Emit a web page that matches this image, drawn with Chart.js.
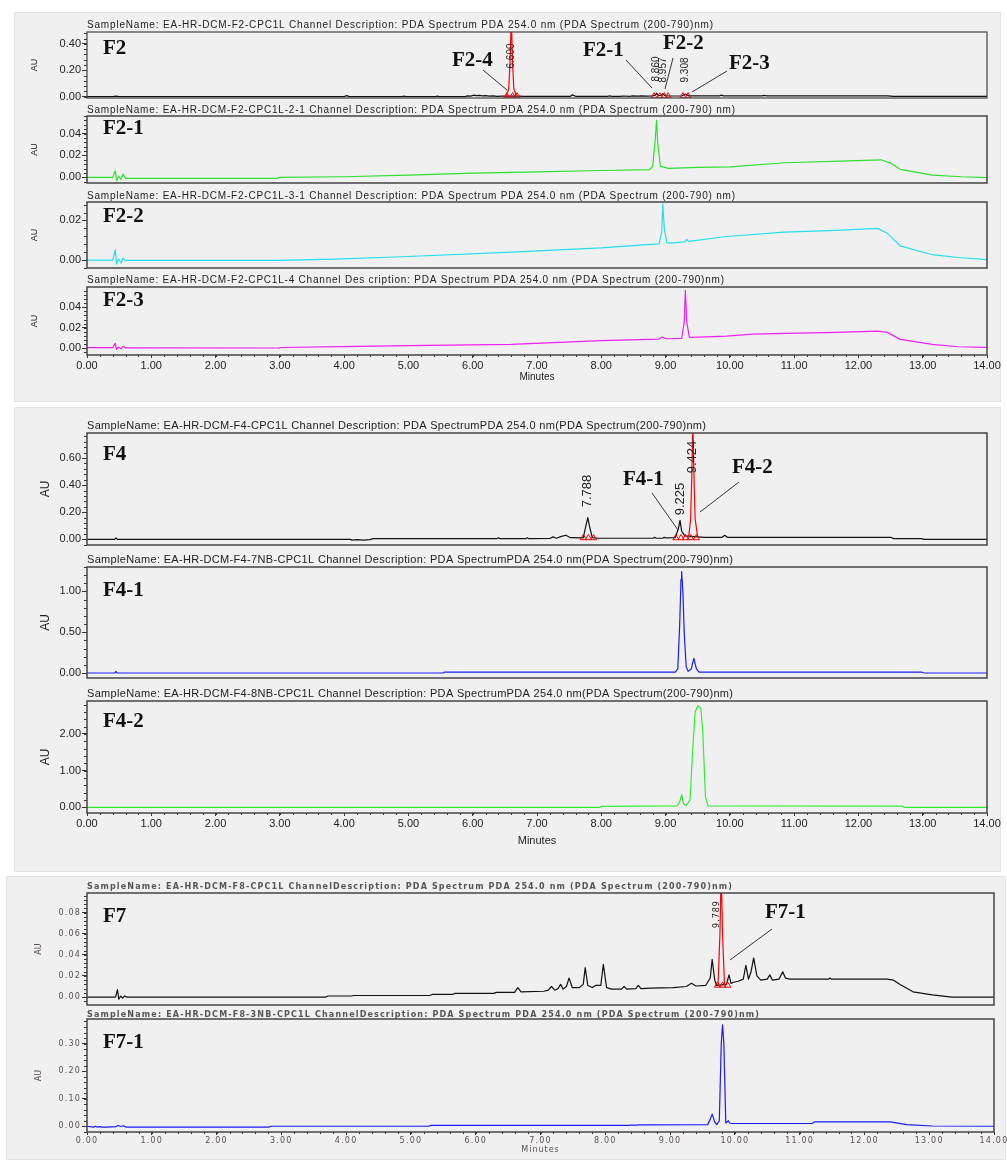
<!DOCTYPE html>
<html>
<head>
<meta charset="utf-8">
<title>HPLC chromatograms F2 / F4 / F7</title>
<script src="https://cdn.jsdelivr.net/npm/chart.js@4.4.1/dist/chart.umd.min.js"></script>
<style>
  body { margin: 0; width: 1007px; height: 1163px; background: #fff; position: relative; overflow: hidden; }
  .group { position: absolute; background: #f0f0f0; box-shadow: 0 0 0 1px #e4e4e4; }
  canvas { position: absolute; left: 0; top: 0; }
</style>
</head>
<body>
<div class="group" style="left:15px;top:13px;width:985px;height:388px"></div>
<div class="group" style="left:15px;top:408px;width:985px;height:463px"></div>
<div class="group" style="left:7px;top:877px;width:998px;height:282px"></div>
<script>
// ------------------ Data (minutes / AU) ------------------
const xTicks = [0, 1, 2, 3, 4, 5, 6, 7, 8, 9, 10, 11, 12, 13, 14];

// F2 (black) + integrated peak 6.600 (red)
const f2Ticks = [0, 0.2, 0.4];
const f2Time = [0.00, 0.40, 0.45, 0.50, 4.00, 4.04, 4.08, 4.90, 4.93, 4.96,
                5.42, 5.45, 5.48, 5.88, 5.92, 5.97, 6.02, 6.05, 6.10, 6.15,
                6.20, 6.26, 6.32, 6.38, 6.45, 6.52, 6.70, 6.80, 7.52, 7.55,
                7.60, 8.10, 8.13, 8.16, 8.30, 8.33, 8.45, 8.48, 8.58, 8.62,
                8.70, 8.80, 8.84, 8.86, 8.89, 8.93, 8.957, 8.99, 9.05, 9.25,
                9.308, 9.36, 9.50, 9.84, 9.87, 9.90, 10.50, 10.53, 10.58, 12.45,
                12.55, 14.00];
const f2AU   = [0.000, 0.000, 0.004, 0.000, 0.000, 0.008, 0.000, 0.000, 0.004, 0.000,
                0.000, 0.004, 0.000, 0.000, 0.006, 0.004, 0.012, 0.008, 0.010, 0.006,
                0.008, 0.004, 0.006, 0.003, 0.004, 0.004, 0.004, 0.003, 0.003, 0.014,
                0.003, 0.003, 0.006, 0.003, 0.003, 0.005, 0.003, 0.006, 0.004, 0.006,
                0.004, 0.006, 0.012, 0.026, 0.008, 0.010, 0.022, 0.008, 0.005, 0.005,
                0.020, 0.006, 0.006, 0.006, 0.012, 0.006, 0.006, 0.010, 0.006, 0.006,
                0.002, 0.002];
const f2PeakTime = [6.52, 6.56, 6.58, 6.60, 6.62, 6.64, 6.68];
const f2PeakAU   = [0.004, 0.06, 0.25, 0.60, 0.25, 0.06, 0.004];
const f2MarkTime = [6.53, 6.62, 6.69, 8.82, 8.91, 8.98, 9.04, 9.27, 9.35];
const f2MarkAU   = [0.004, 0.004, 0.004, 0.004, 0.004, 0.004, 0.004, 0.004, 0.004];

// F2-1 (green)
const f21Ticks = [0, 0.02, 0.04];
const f21Time = [0.00, 0.40, 0.44, 0.46, 0.49, 0.53, 0.56, 0.60, 2.95, 3.00,
                 4.00, 5.00, 6.00, 7.00, 8.00, 8.75, 8.80, 8.84, 8.86, 8.88,
                 8.92, 9.05, 9.50, 10.00, 10.85, 11.85, 12.35, 12.50, 12.65, 13.15,
                 13.60, 14.00];
const f21AU   = [0.000, 0.000, 0.006, -0.003, 0.001, -0.002, 0.003, -0.001, -0.001, 0.000,
                 0.0005, 0.002, 0.0038, 0.005, 0.0062, 0.007, 0.010, 0.035, 0.052, 0.030,
                 0.010, 0.0082, 0.009, 0.0096, 0.0133, 0.015, 0.016, 0.013, 0.0073, 0.002,
                 0.0005, -0.0003];

// F2-2 (cyan)
const f22Ticks = [0, 0.02];
const f22Time = [0.00, 0.40, 0.44, 0.46, 0.49, 0.53, 0.56, 0.60, 3.00, 3.85,
                 5.00, 6.60, 8.00, 8.65, 8.90, 8.94, 8.957, 8.98, 9.02, 9.05,
                 9.30, 9.33, 9.36, 9.95, 10.85, 11.65, 12.30, 12.45, 12.65, 13.15,
                 13.55, 14.00];
const f22AU   = [0.000, 0.000, 0.0052, -0.002, 0.0005, -0.0015, 0.001, -0.0002, -0.0002, 0.0005,
                 0.0018, 0.004, 0.0062, 0.0077, 0.0082, 0.014, 0.0284, 0.016, 0.0088, 0.0086,
                 0.0092, 0.0104, 0.0094, 0.0119, 0.0141, 0.015, 0.016, 0.0135, 0.0072, 0.0027,
                 0.0013, 0.0002];

// F2-3 (magenta)
const f23Ticks = [0, 0.02, 0.04];
const f23Time = [0.00, 0.40, 0.44, 0.46, 0.49, 0.53, 0.56, 0.60, 2.99, 3.00,
                 3.95, 5.00, 6.60, 8.00, 8.90, 8.95, 9.00, 9.25, 9.29, 9.308,
                 9.33, 9.37, 9.40, 9.95, 10.35, 10.85, 11.65, 12.30, 12.45, 12.65,
                 13.15, 13.55, 14.00];
const f23AU   = [0.0006, 0.0006, 0.0048, -0.001, 0.001, -0.0005, 0.002, 0.0004, 0.0003, 0.0008,
                 0.0016, 0.0026, 0.0039, 0.0074, 0.009, 0.011, 0.0093, 0.0097, 0.025, 0.0564,
                 0.025, 0.0106, 0.0106, 0.0119, 0.0138, 0.0145, 0.0155, 0.0167, 0.0155, 0.0087,
                 0.0039, 0.0015, 0.001];

// F4 (black) + integrated peak 9.424 (red)
const f4Ticks = [0, 0.2, 0.4, 0.6];
const f4Time = [0.00, 0.43, 0.45, 0.47, 4.10, 4.12, 4.20, 4.30, 4.40, 4.45,
                6.38, 6.40, 6.42, 6.83, 6.85, 6.87, 7.20, 7.25, 7.30, 7.38,
                7.45, 7.52, 7.72, 7.76, 7.79, 7.82, 7.86, 7.95, 8.80, 8.83,
                8.86, 8.95, 8.98, 9.01, 9.15, 9.20, 9.225, 9.25, 9.30, 9.60,
                9.88, 9.92, 9.96, 12.50, 12.55, 12.98, 13.02, 14.00];
const f4AU   = [0.000, 0.000, 0.010, 0.000, 0.000, -0.006, -0.002, -0.006, -0.002, 0.005,
                0.005, 0.012, 0.005, 0.005, 0.012, 0.005, 0.006, 0.018, 0.008, 0.022,
                0.030, 0.012, 0.010, 0.100, 0.160, 0.090, 0.012, 0.008, 0.008, 0.014,
                0.008, 0.008, 0.014, 0.010, 0.012, 0.080, 0.140, 0.060, 0.025, 0.015,
                0.015, 0.030, 0.015, 0.015, 0.005, 0.005, 0.000, 0.000];
const f4PeakTime = [9.36, 9.39, 9.41, 9.424, 9.44, 9.46, 9.50];
const f4PeakAU   = [0.020, 0.15, 0.50, 0.85, 0.50, 0.15, 0.015];
const f4MarkTime = [7.72, 7.80, 7.88, 9.16, 9.24, 9.31, 9.39, 9.48];
const f4MarkAU   = [0.010, 0.010, 0.010, 0.010, 0.010, 0.010, 0.010, 0.010];

// F4-1 (blue)
const f41Ticks = [0, 0.5, 1.0];
const f41Time = [0.00, 0.43, 0.45, 0.47, 5.54, 5.56, 9.15, 9.19, 9.22, 9.24,
                 9.25, 9.27, 9.29, 9.32, 9.35, 9.40, 9.44, 9.48, 9.52, 12.98,
                 13.02, 14.00];
const f41AU   = [0.000, 0.000, 0.020, 0.000, 0.000, 0.012, 0.012, 0.050, 0.600, 1.150,
                 1.245, 0.980, 0.500, 0.080, 0.020, 0.050, 0.180, 0.050, 0.012, 0.012,
                 0.000, 0.000];

// F4-2 (green)
const f42Ticks = [0, 1, 2];
const f42Time = [0.00, 7.98, 8.00, 9.18, 9.22, 9.25, 9.28, 9.32, 9.38, 9.42,
                 9.46, 9.50, 9.55, 9.58, 9.62, 9.66, 12.68, 12.72, 14.00];
const f42AU   = [0.000, 0.000, 0.030, 0.040, 0.150, 0.345, 0.100, 0.050, 0.200, 1.500,
                 2.600, 2.770, 2.700, 2.000, 0.300, 0.040, 0.035, 0.000, 0.000];

// F7 (black) + integrated peak 9.789 (red)
const f7Ticks = [0, 0.02, 0.04, 0.06, 0.08];
const f7Time = [0.00, 0.44, 0.47, 0.49, 0.52, 0.55, 0.58, 0.62, 3.68, 3.72,
                4.08, 4.12, 5.29, 5.33, 5.64, 5.68, 6.28, 6.32, 6.60, 6.65,
                6.70, 7.05, 7.12, 7.17, 7.22, 7.27, 7.31, 7.35, 7.40, 7.44,
                7.49, 7.60, 7.66, 7.69, 7.73, 7.80, 7.85, 7.93, 7.97, 8.02,
                8.10, 8.25, 8.29, 8.33, 8.47, 8.51, 8.55, 8.70, 9.05, 9.25,
                9.33, 9.40, 9.55, 9.62, 9.65, 9.69, 9.72, 9.87, 9.91, 9.94,
                9.98, 10.05, 10.13, 10.17, 10.21, 10.25, 10.29, 10.34, 10.40, 10.50,
                10.54, 10.58, 10.68, 10.74, 10.78, 10.85, 11.45, 11.47, 11.49, 12.35,
                12.45, 12.55, 12.75, 13.05, 13.35, 14.00];
const f7AU   = [0.000, 0.000, 0.007, -0.002, 0.001, -0.001, 0.001, 0.000, 0.000, 0.001,
                0.001, 0.0015, 0.0015, 0.0025, 0.0025, 0.0035, 0.0035, 0.0045, 0.0045, 0.009,
                0.0050, 0.0055, 0.0065, 0.010, 0.0065, 0.008, 0.012, 0.0075, 0.010, 0.018,
                0.009, 0.009, 0.012, 0.028, 0.011, 0.009, 0.011, 0.011, 0.031, 0.009,
                0.0075, 0.0075, 0.010, 0.0075, 0.0080, 0.011, 0.0080, 0.0085, 0.0090, 0.0100,
                0.013, 0.0105, 0.0110, 0.018, 0.0356, 0.016, 0.011, 0.012, 0.021, 0.013,
                0.014, 0.015, 0.017, 0.030, 0.017, 0.024, 0.037, 0.020, 0.016, 0.017,
                0.021, 0.016, 0.017, 0.024, 0.018, 0.017, 0.017, 0.018, 0.017, 0.017,
                0.016, 0.012, 0.005, 0.002, 0.000, 0.000];
const f7PeakTime = [9.74, 9.77, 9.789, 9.81, 9.84];
const f7PeakAU   = [0.011, 0.06, 0.12, 0.06, 0.011];
const f7MarkTime = [9.73, 9.81, 9.89];
const f7MarkAU   = [0.011, 0.011, 0.011];

// F7-1 (blue)
const f71Ticks = [0, 0.1, 0.2, 0.3];
const f71Time = [0.00, 0.10, 0.13, 0.16, 0.20, 0.24, 0.30, 0.45, 0.48, 0.52,
                 0.56, 0.60, 2.80, 2.84, 5.27, 5.31, 8.36, 8.40, 8.48, 8.52,
                 9.58, 9.62, 9.65, 9.69, 9.72, 9.76, 9.79, 9.81, 9.83, 9.86,
                 9.90, 9.92, 9.95, 11.19, 11.23, 12.40, 12.65, 13.05, 14.00];
const f71AU   = [0.000, -0.003, 0.000, -0.003, -0.001, -0.003, -0.003, -0.001, 0.003, -0.001,
                 0.002, -0.003, -0.003, 0.000, 0.000, 0.003, 0.003, 0.004, 0.004, 0.005,
                 0.006, 0.025, 0.044, 0.015, 0.006, 0.020, 0.300, 0.368, 0.300, 0.012,
                 0.020, 0.012, 0.010, 0.010, 0.0157, 0.0157, 0.006, 0.001, 0.000];

// ------------------ Helpers ------------------
const W = 1007, H = 1163;

function series(times, values) {
    return times.map((t, i) => ({ x: t, y: values[i] }));
}

function trace(times, values, color, order) {
    return {
        data: series(times, values),
        borderColor: color,
        borderWidth: 1.2,
        borderJoinStyle: 'round',
        pointRadius: 0,
        tension: 0,
        order: order
    };
}

// integration markers (small hollow red triangles at the peak base)
function marks(times, values) {
    return {
        data: series(times, values),
        showLine: false,
        pointStyle: 'triangle',
        pointRadius: 3.5,
        pointBorderColor: '#ff0000',
        pointBackgroundColor: 'rgba(0,0,0,0)',
        pointBorderWidth: 1,
        order: 0
    };
}

// draw text stretched/squeezed to a given width
function fitText(ctx, text, x, y, width) {
    ctx.letterSpacing = '0px';
    const w = ctx.measureText(text).width;
    const ls = (width - w) / (text.length - 1);
    if (ls >= 0) {
        ctx.letterSpacing = ls + 'px';
        ctx.fillText(text, x, y);
    } else {
        ctx.save();
        ctx.translate(x, y);
        ctx.scale(width / w, 1);
        ctx.fillText(text, 0, 0);
        ctx.restore();
    }
    ctx.letterSpacing = '0px';
}

function makeDecor(p) {
    return {
        id: 'decor',
        beforeDraw(chart) {
            chart.ctx.letterSpacing = p.tickSpacing || '0px';
        },
        afterDraw(chart) {
            const { ctx, chartArea: a, scales } = chart;
            const xs = scales.x, ys = scales.y;
            ctx.save();
            ctx.letterSpacing = '0px';

            // minor ticks
            ctx.strokeStyle = '#333';
            ctx.lineWidth = 1;
            ctx.beginPath();
            for (let k = Math.ceil(ys.min / p.minorY - 1e-9); k * p.minorY <= ys.max + 1e-12; k++) {
                const py = Math.round(ys.getPixelForValue(k * p.minorY)) + 0.5;
                ctx.moveTo(a.left - 3, py);
                ctx.lineTo(a.left, py);
            }
            if (p.bottom) {
                for (let k = 0; k <= 70; k++) {
                    const px = Math.round(xs.getPixelForValue(k / 5)) + 0.5;
                    ctx.moveTo(px, a.bottom);
                    ctx.lineTo(px, a.bottom + 2);
                }
            }
            ctx.stroke();

            // plot frame
            ctx.lineWidth = p.boxLine;
            ctx.strokeStyle = '#444';
            ctx.strokeRect(a.left, a.top, a.right - a.left, a.bottom - a.top);

            // sample title
            ctx.font = p.titleFont;
            ctx.fillStyle = p.titleColor;
            ctx.textAlign = 'left';
            ctx.textBaseline = 'middle';
            fitText(ctx, p.title, a.left, p.titleY, p.titleRight - a.left);

            // fraction label and annotations
            ctx.font = 'bold 21px "Liberation Serif"';
            ctx.fillStyle = '#111';
            ctx.fillText(p.label, 103, p.labelY);
            ctx.strokeStyle = '#333';
            ctx.lineWidth = 1;
            (p.notes || []).forEach(n => {
                ctx.fillText(n.text, n.x, n.y);
                ctx.beginPath();
                ctx.moveTo(n.line[0], n.line[1]);
                ctx.lineTo(n.line[2], n.line[3]);
                ctx.stroke();
            });

            // retention time labels
            ctx.font = p.peakFont;
            ctx.fillStyle = '#222';
            ctx.textAlign = 'center';
            (p.peaks || []).forEach(pk => {
                ctx.save();
                ctx.translate(xs.getPixelForValue(pk.t) + (pk.dx || 0), pk.y);
                ctx.rotate(-Math.PI / 2);
                ctx.letterSpacing = p.textSpacing || '0px';
                ctx.fillText(pk.text, 0, 0);
                ctx.restore();
            });

            // AU axis title
            ctx.save();
            ctx.font = p.auFont;
            ctx.fillStyle = p.tickColor;
            ctx.translate(p.auX, (a.top + a.bottom) / 2);
            ctx.rotate(-Math.PI / 2);
            ctx.fillText('AU', 0, 0);
            ctx.restore();

            if (p.bottom) {
                ctx.font = p.minutesFont;
                ctx.fillStyle = p.tickColor;
                ctx.letterSpacing = p.textSpacing || '0px';
                ctx.fillText('Minutes', (a.left + a.right) / 2, p.minutesY);
            }
            ctx.restore();
        }
    };
}

function makePanel(p) {
    const c = document.createElement('canvas');
    c.width = W;
    c.height = H;
    document.body.appendChild(c);
    const [L, R, T, B] = p.box;
    const yW = 40, xH = p.bottom ? 22 : 0;
    const fmt = v => v.toFixed(2);
    new Chart(c, {
        type: 'line',
        data: { datasets: p.datasets },
        options: {
            responsive: false,
            animation: false,
            events: [],
            layout: { padding: { left: L - yW, right: W - R, top: T, bottom: H - B - xH } },
            plugins: { legend: { display: false }, tooltip: { enabled: false } },
            scales: {
                x: {
                    type: 'linear', min: 0, max: 14, display: !!p.bottom,
                    afterBuildTicks: s => { s.ticks = xTicks.map(v => ({ value: v })); },
                    afterFit: s => { s.height = xH; },
                    grid: { drawOnChartArea: false, tickLength: 3, color: '#333' },
                    border: { display: false },
                    ticks: { padding: 1, maxRotation: 0, autoSkip: false, color: p.tickColor, font: p.tickFont, callback: fmt }
                },
                y: {
                    type: 'linear', min: p.yMin, max: p.yMax,
                    afterBuildTicks: s => { s.ticks = p.yTicks.map(v => ({ value: v })); },
                    afterFit: s => { s.width = yW; },
                    grid: { drawOnChartArea: false, tickLength: 5, color: '#333' },
                    border: { display: false },
                    ticks: { padding: 1, color: p.tickColor, font: p.tickFont, callback: fmt }
                }
            }
        },
        plugins: [makeDecor(p)]
    });
}

// ------------------ Group styles ------------------
const g1 = {
    tickFont: { family: 'Liberation Sans', size: 11 }, tickColor: '#222',
    titleFont: '10px "Liberation Sans"', titleColor: '#222',
    auFont: '9px "Liberation Sans"', auX: 35, peakFont: '10px "Liberation Sans"',
    minutesFont: '10px "Liberation Sans"', minutesY: 377, boxLine: 1.5
};
const g2 = {
    tickFont: { family: 'Liberation Sans', size: 11 }, tickColor: '#222',
    titleFont: '11px "Liberation Sans"', titleColor: '#222',
    auFont: '12px "Liberation Sans"', auX: 46, peakFont: '13px "Liberation Sans"',
    minutesFont: '11px "Liberation Sans"', minutesY: 841, boxLine: 1.5
};
const g3 = {
    tickFont: { family: 'DejaVu Sans', size: 8 }, tickColor: '#5a5050', tickSpacing: '1.2px',
    textSpacing: '1px',
    titleFont: 'bold 8px "DejaVu Sans"', titleColor: '#555',
    auFont: '8px "DejaVu Sans"', auX: 38.5, peakFont: '8px "DejaVu Sans"',
    minutesFont: '8px "DejaVu Sans"', minutesY: 1150, boxLine: 1.5
};

// ------------------ Panels ------------------
makePanel(Object.assign({}, g1, {
    box: [87, 987, 32, 98], yMin: -0.01, yMax: 0.49, yTicks: f2Ticks, minorY: 0.04, boxLine: 1.2,
    title: 'SampleName: EA-HR-DCM-F2-CPC1L Channel Description: PDA Spectrum PDA 254.0 nm (PDA Spectrum (200-790)nm)',
    titleY: 25, titleRight: 713, label: 'F2', labelY: 49,
    notes: [
        { text: 'F2-4', x: 452, y: 61, line: [483, 70, 507, 90] },
        { text: 'F2-1', x: 583, y: 51, line: [626, 60, 652, 88] },
        { text: 'F2-2', x: 663, y: 44, line: [673, 58, 665, 89] },
        { text: 'F2-3', x: 729, y: 64, line: [727, 71, 692, 92] }
    ],
    peaks: [
        { text: '6.600', t: 6.600, y: 56 },
        { text: '8.860', t: 8.860, y: 69 },
        { text: '8.957', t: 8.957, y: 70 },
        { text: '9.308', t: 9.308, y: 70 }
    ],
    datasets: [
        trace(f2PeakTime, f2PeakAU, '#ff0000', 1),
        marks(f2MarkTime, f2MarkAU),
        trace(f2Time, f2AU, '#111111', 2)
    ]
}));

makePanel(Object.assign({}, g1, {
    box: [87, 987, 116, 183], yMin: -0.0052, yMax: 0.056, yTicks: f21Ticks, minorY: 0.004,
    title: 'SampleName: EA-HR-DCM-F2-CPC1L-2-1 Channel Description: PDA Spectrum PDA 254.0 nm (PDA Spectrum (200-790) nm)',
    titleY: 110, titleRight: 735, label: 'F2-1', labelY: 129,
    datasets: [trace(f21Time, f21AU, '#2ee02e', 1)]
}));

makePanel(Object.assign({}, g1, {
    box: [87, 987, 202, 268], yMin: -0.004, yMax: 0.0293, yTicks: f22Ticks, minorY: 0.004,
    title: 'SampleName: EA-HR-DCM-F2-CPC1L-3-1 Channel Description: PDA Spectrum PDA 254.0 nm (PDA Spectrum (200-790) nm)',
    titleY: 196.5, titleRight: 735, label: 'F2-2', labelY: 217,
    datasets: [trace(f22Time, f22AU, '#22e0f0', 1)]
}));

makePanel(Object.assign({}, g1, {
    box: [87, 987, 287, 355], yMin: -0.0065, yMax: 0.0596, yTicks: f23Ticks, minorY: 0.004, bottom: true,
    title: 'SampleName: EA-HR-DCM-F2-CPC1L-4 Channel Des cription: PDA Spectrum PDA 254.0 nm (PDA Spectrum (200-790)nm)',
    titleY: 280.5, titleRight: 724, label: 'F2-3', labelY: 301,
    datasets: [trace(f23Time, f23AU, '#f020f0', 1)]
}));

makePanel(Object.assign({}, g2, {
    box: [87, 987, 433, 545], yMin: -0.042, yMax: 0.785, yTicks: f4Ticks, minorY: 0.04,
    title: 'SampleName: EA-HR-DCM-F4-CPC1L Channel Description: PDA SpectrumPDA 254.0 nm(PDA Spectrum(200-790)nm)',
    titleY: 425.5, titleRight: 706, label: 'F4', labelY: 455,
    notes: [
        { text: 'F4-1', x: 623, y: 480, line: [652, 493, 678, 530] },
        { text: 'F4-2', x: 732, y: 468, line: [739, 482, 700, 512] }
    ],
    peaks: [
        { text: '7.788', t: 7.788, y: 491 },
        { text: '9.225', t: 9.225, y: 499 },
        { text: '9.424', t: 9.424, y: 457 }
    ],
    datasets: [
        trace(f4PeakTime, f4PeakAU, '#ff0000', 1),
        marks(f4MarkTime, f4MarkAU),
        trace(f4Time, f4AU, '#111111', 2)
    ]
}));

makePanel(Object.assign({}, g2, {
    box: [87, 987, 567, 678], yMin: -0.061, yMax: 1.30, yTicks: f41Ticks, minorY: 0.1,
    title: 'SampleName: EA-HR-DCM-F4-7NB-CPC1L Channel Description: PDA SpectrumPDA 254.0 nm(PDA Spectrum(200-790)nm)',
    titleY: 560, titleRight: 733, label: 'F4-1', labelY: 591,
    datasets: [trace(f41Time, f41AU, '#1a1aff', 1)]
}));

makePanel(Object.assign({}, g2, {
    box: [87, 987, 701, 813], yMin: -0.152, yMax: 2.897, yTicks: f42Ticks, minorY: 0.2, bottom: true,
    title: 'SampleName: EA-HR-DCM-F4-8NB-CPC1L Channel Description: PDA SpectrumPDA 254.0 nm(PDA Spectrum(200-790)nm)',
    titleY: 693.5, titleRight: 733, label: 'F4-2', labelY: 722,
    datasets: [trace(f42Time, f42AU, '#33ee33', 1)]
}));

makePanel(Object.assign({}, g3, {
    box: [87, 994, 893, 1005], yMin: -0.0075, yMax: 0.0985, yTicks: f7Ticks, minorY: 0.004,
    title: 'SampleName: EA-HR-DCM-F8-CPC1L ChannelDescription: PDA Spectrum PDA 254.0 nm (PDA Spectrum (200-790)nm)',
    titleY: 887, titleRight: 732, label: 'F7', labelY: 917,
    notes: [{ text: 'F7-1', x: 765, y: 913, line: [772, 929, 730, 960] }],
    peaks: [{ text: '9.789', t: 9.789, y: 914, dx: -4 }],
    datasets: [
        trace(f7PeakTime, f7PeakAU, '#ff0000', 1),
        marks(f7MarkTime, f7MarkAU),
        trace(f7Time, f7AU, '#111111', 2)
    ]
}));

makePanel(Object.assign({}, g3, {
    box: [87, 994, 1019, 1132], yMin: -0.0208, yMax: 0.389, yTicks: f71Ticks, minorY: 0.02, bottom: true,
    title: 'SampleName: EA-HR-DCM-F8-3NB-CPC1L ChannelDescription: PDA Spectrum PDA 254.0 nm (PDA Spectrum (200-790)nm)',
    titleY: 1014.5, titleRight: 759, label: 'F7-1', labelY: 1043,
    datasets: [trace(f71Time, f71AU, '#1a1aff', 1)]
}));
</script>
</body>
</html>
